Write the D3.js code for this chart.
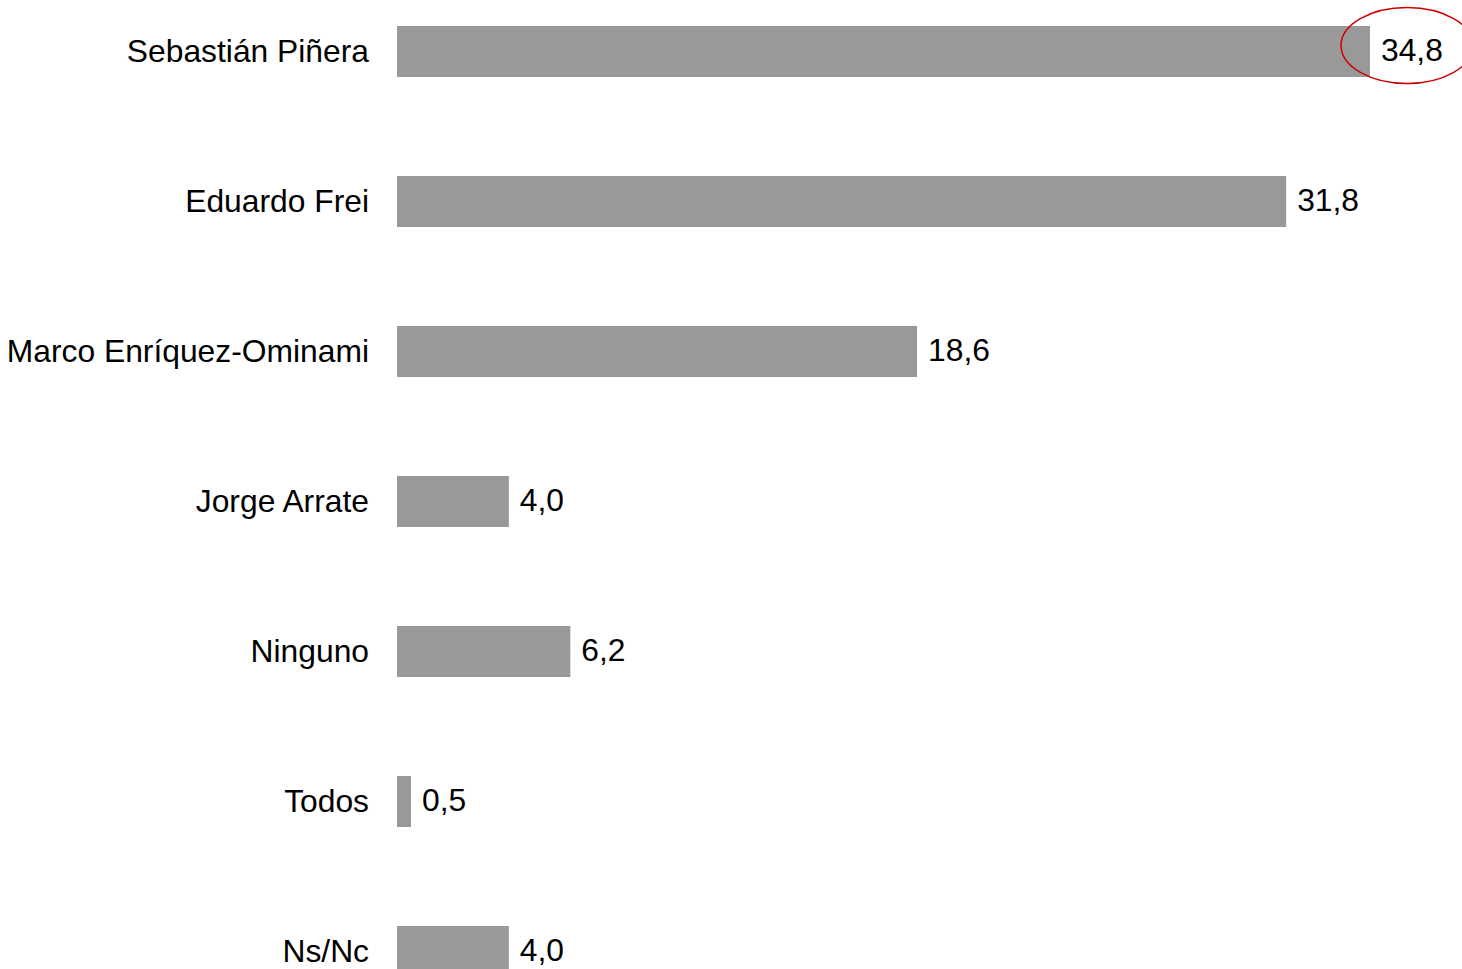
<!DOCTYPE html>
<html><head><meta charset="utf-8">
<script src="https://cdn.jsdelivr.net/npm/d3@7"></script>
<style>html,body{margin:0;padding:0;background:#fff;overflow:hidden}</style>
</head><body>
<svg id="c" width="1462" height="969"></svg>
<script>
const categories = ["Sebastián Piñera","Eduardo Frei","Marco Enríquez-Ominami","Jorge Arrate","Ninguno","Todos","Ns/Nc"];
const values = [34.8, 31.8, 18.6, 4.0, 6.2, 0.5, 4.0];
const valueLabels = ["34,8","31,8","18,6","4,0","6,2","0,5","4,0"];
const highlighted = ["Sebastián Piñera"];

const svg = d3.select("#c");
const x = d3.scaleLinear().domain([0, 35]).range([397, 397 + 35 * 27.96]);
const y = d3.scaleBand().domain(categories).range([-23.5, 1026.5]).paddingInner(0.66).paddingOuter(0.33);
const font = "'Liberation Sans', Arial, sans-serif";
const fs = "31.8px";
const data = categories.map((c, i) => ({c, v: values[i], l: valueLabels[i]}));

svg.selectAll("rect.bar").data(data).enter().append("rect")
  .attr("class","bar")
  .attr("x", x(0)).attr("y", d => y(d.c))
  .attr("width", d => x(d.v) - x(0)).attr("height", y.bandwidth())
  .attr("fill", "#999999");

svg.selectAll("text.cat").data(data).enter().append("text")
  .attr("class","cat")
  .attr("x", 369).attr("y", d => y(d.c) + y.bandwidth()/2 - 1)
  .attr("dy", "0.36em").attr("text-anchor","end")
  .style("font-family", font).style("font-size", fs).attr("fill","#000")
  .text(d => d.c);

svg.selectAll("text.val").data(data).enter().append("text")
  .attr("class","val")
  .attr("x", d => x(d.v) + 11).attr("y", d => y(d.c) + y.bandwidth()/2 - 2)
  .attr("dy", "0.36em").attr("text-anchor","start")
  .style("font-family", font).style("font-size", fs).attr("fill","#000")
  .text(d => d.l);

svg.selectAll("ellipse.hl").data(data.filter(d => highlighted.includes(d.c))).enter().append("ellipse")
  .attr("class","hl")
  .attr("cx", d => x(d.v) + 37).attr("cy", d => y(d.c) + y.bandwidth()/2 - 6)
  .attr("rx", 66).attr("ry", 38)
  .attr("fill","none").attr("stroke","#cc0000").attr("stroke-width",1.5);
</script>
</body></html>
